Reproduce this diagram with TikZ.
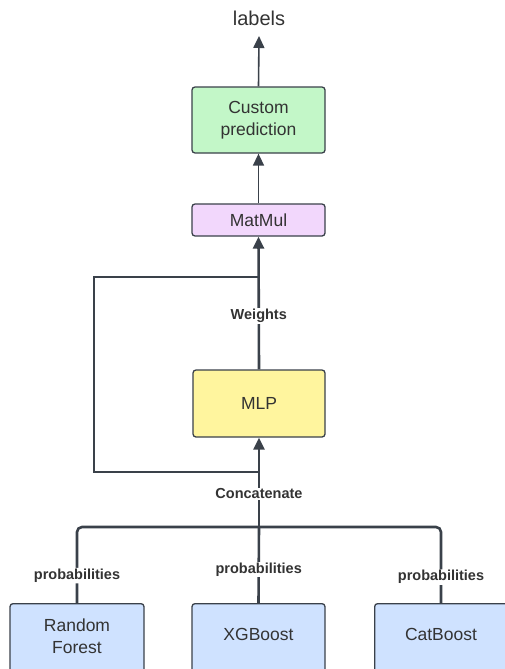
\documentclass[tikz,border=0pt]{standalone}
\usepackage{fontspec}
\setmainfont{Liberation Sans}
\usetikzlibrary{arrows.meta}
\definecolor{ln}{RGB}{58,65,74}
\definecolor{tx}{RGB}{51,51,51}
\definecolor{fgreen}{RGB}{195,247,200}
\definecolor{fpurple}{RGB}{242,215,252}
\definecolor{fyellow}{RGB}{255,245,158}
\definecolor{fblue}{RGB}{207,226,255}
\tikzset{
  box/.style={draw=ln, line width=1.3pt, rounded corners=3pt, text=tx, font=\fontsize{17.5}{22}\selectfont, align=center, inner sep=0pt},
  btext/.style={text=tx, font=\fontsize{17.5}{22}\selectfont, align=center},
  conn/.style={draw=ln, line width=2.6pt},
  thinconn/.style={draw=ln, line width=1.4pt},
  tip/.style={-{Triangle[length=12pt,width=11pt]}},
  lbl/.style={fill=white, text=tx, font=\bfseries\fontsize{14.5}{16}\selectfont, inner sep=1pt}
}
\begin{document}
\begin{tikzpicture}[x=1pt,y=-1pt]
\useasboundingbox (0,0) rectangle (504,669);
\node[text=tx, font=\fontsize{20}{24}\selectfont] (labels) at (259,18) {labels};
\node[box, fill=fgreen, minimum width=133pt, minimum height=66pt] (custom) at (258.5,120) {Custom\\prediction};
\node[box, fill=fpurple, minimum width=133pt, minimum height=32pt] (matmul) at (258.5,220) {MatMul};
\node[box, fill=fyellow, minimum width=132pt, minimum height=67pt] (mlp) at (259,403.5) {MLP};
\node[box, fill=fblue, minimum width=134pt, minimum height=84pt, anchor=north] (rf) at (77,603) {};
\node[btext] (rft) at (77,636) {Random\\Forest};
\node[box, fill=fblue, minimum width=133pt, minimum height=84pt, anchor=north] (xgb) at (258.5,603) {};
\node[btext] (xgbt) at (258.5,634) {XGBoost};
\node[box, fill=fblue, minimum width=134pt, minimum height=84pt, anchor=north west] (cat) at (374,603) {};
\node[btext] (catt) at (441,634) {CatBoost};

\coordinate (join) at (259,527);
\coordinate (loopa) at (259,472);
\coordinate (loopb) at (94,472);
\coordinate (loopc) at (94,277);
\coordinate (loopd) at (259,277);
\coordinate (labtip) at (259,36);

% feedback loop
\draw[thinconn] (loopa) -- (loopb) -- (loopc) -- (loopd);

% top arrows
\draw[conn, line width=1.6pt, tip] (custom.north) -- (labtip);
\draw[conn, line width=1.6pt, tip] (matmul.north) -- (custom.south);
\draw[conn, tip] (mlp.north) -- node[lbl, pos=0.40] {Weights} (matmul.south);
\draw[conn, tip] (join) -- node[lbl, pos=0.37] {Concatenate} (mlp.south);

% bus
\draw[conn, rounded corners=5pt] (rf.north) -- node[lbl, pos=0.36] {probabilities} (77,527) -- (441,527) -- node[lbl, pos=0.66] {probabilities} (cat.north -| 441,603);
\draw[conn] (xgb.north) -- node[lbl, pos=0.44] {probabilities} (join);
\end{tikzpicture}
\end{document}
